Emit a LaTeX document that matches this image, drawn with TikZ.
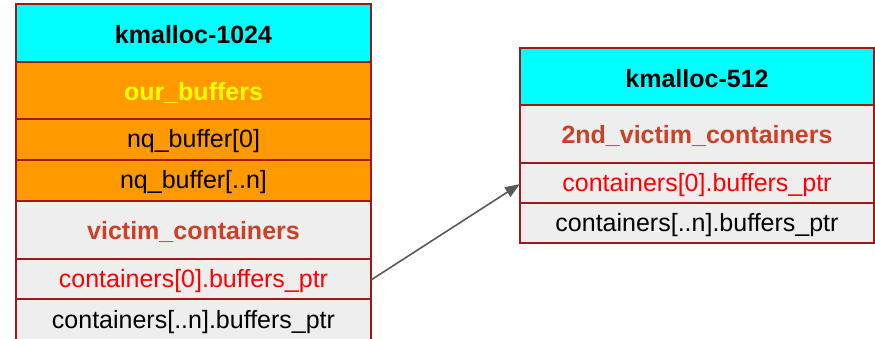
\documentclass[tikz,border=0pt]{standalone}
\usepackage{fontspec}
\setmainfont{Liberation Sans}
\usetikzlibrary{arrows.meta}
\definecolor{cellborder}{RGB}{160,24,24}
\definecolor{slabcyan}{RGB}{0,255,255}
\definecolor{bufforange}{RGB}{255,153,0}
\definecolor{cellgray}{RGB}{238,238,238}
\definecolor{titleyellow}{RGB}{255,255,0}
\definecolor{berry}{RGB}{204,65,37}
\definecolor{ptrred}{RGB}{255,0,0}
\definecolor{arrowgray}{RGB}{89,89,89}
\tikzset{
  x=1pt, y=-1pt,
  cell/.style={draw=cellborder, line width=1.2pt},
  celltext/.style={font=\fontsize{25}{30}\selectfont, anchor=center, inner sep=0pt, yshift=-2pt},
  boldtext/.style={celltext, font=\fontsize{25}{30}\selectfont\bfseries},
  link/.style={draw=arrowgray, line width=1.6pt, -{Triangle[length=15pt,width=11pt]}}
}
\begin{document}
\begin{tikzpicture}
\useasboundingbox (0,0) rectangle (875,338);
% kmalloc-1024 slab
\filldraw[cell, fill=slabcyan]   (16,4)   rectangle node[boldtext]{kmalloc-1024} (371,62);
\filldraw[cell, fill=bufforange] (16,62)  rectangle node[boldtext, text=titleyellow]{our\_buffers} (371,119);
\filldraw[cell, fill=bufforange] (16,119) rectangle node[celltext]{nq\_buffer[0]} (371,160);
\filldraw[cell, fill=bufforange] (16,160) rectangle node[celltext]{nq\_buffer[..n]} (371,201);
\filldraw[cell, fill=cellgray]   (16,201) rectangle node[boldtext, text=berry]{victim\_containers} (371,259);
\filldraw[cell, fill=cellgray]   (16,259) rectangle node[celltext, text=ptrred] (lptr) {containers[0].buffers\_ptr} (371,299);
\filldraw[cell, fill=cellgray]   (16,299) rectangle (371,350);
\node[celltext] (lrest) at (193.5,320) {containers[..n].buffers\_ptr};
% kmalloc-512 slab
\filldraw[cell, fill=slabcyan] (520,48)  rectangle node[boldtext]{kmalloc-512} (874,105);
\filldraw[cell, fill=cellgray] (520,105) rectangle node[boldtext, text=berry]{2nd\_victim\_containers} (874,163);
\filldraw[cell, fill=cellgray] (520,163) rectangle node[celltext, text=ptrred] (rptr) {containers[0].buffers\_ptr} (874,203);
\filldraw[cell, fill=cellgray] (520,203) rectangle node[celltext] (rrest) {containers[..n].buffers\_ptr} (874,243);
% pointer link
\coordinate (src) at (371,280);
\coordinate (dst) at (520,184);
\draw[link] (src) -- (dst);
\end{tikzpicture}
\end{document}
